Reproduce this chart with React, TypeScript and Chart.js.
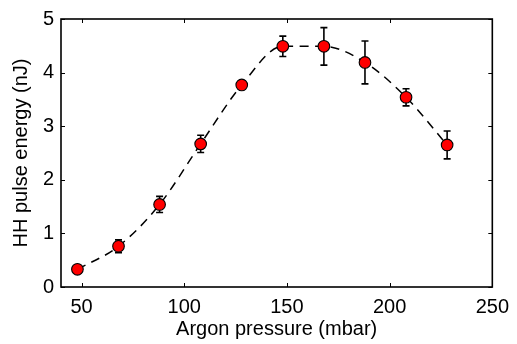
import React, { useEffect, useRef } from "react";
import { Chart, registerables } from "chart.js";

Chart.register(...registerables);

const pressure = [48, 68, 88, 108, 128, 148, 168, 188, 208, 228];
const energy = [0.33, 0.76, 1.54, 2.67, 3.77, 4.49, 4.49, 4.19, 3.54, 2.65];
const energyError = [0.02, 0.12, 0.15, 0.16, 0.05, 0.19, 0.35, 0.4, 0.16, 0.26];
const xTicks = [50, 100, 150, 200, 250];
const yTicks = [0, 1, 2, 3, 4, 5];

const FONT = "'Liberation Sans', Arial, Helvetica, sans-serif";

const errorBarPlugin = {
  id: "errorBars",
  afterDatasetsDraw(chart: any) {
    const { ctx, scales } = chart;
    const xs = scales.x;
    const ys = scales.y;
    ctx.save();
    ctx.strokeStyle = "#000";
    ctx.lineWidth = 1.6;
    ctx.setLineDash([]);
    for (let i = 0; i < pressure.length; i++) {
      const px = xs.getPixelForValue(pressure[i]);
      const yTop = ys.getPixelForValue(energy[i] + energyError[i]);
      const yBot = ys.getPixelForValue(energy[i] - energyError[i]);
      const cap = 3.5;
      ctx.beginPath();
      ctx.moveTo(px, yTop);
      ctx.lineTo(px, yBot);
      ctx.moveTo(px - cap, yTop);
      ctx.lineTo(px + cap, yTop);
      ctx.moveTo(px - cap, yBot);
      ctx.lineTo(px + cap, yBot);
      ctx.stroke();
    }
    const meta = chart.getDatasetMeta(0);
    meta.data.forEach((pt: any) => {
      ctx.beginPath();
      ctx.arc(pt.x, pt.y, 5.8, 0, Math.PI * 2);
      ctx.fillStyle = "#ff0000";
      ctx.fill();
      ctx.lineWidth = 1.1;
      ctx.strokeStyle = "#000";
      ctx.stroke();
    });
    ctx.restore();
  },
};

const framePlugin = {
  id: "frame",
  afterDraw(chart: any) {
    const { ctx, chartArea, scales } = chart;
    const { left, right, top, bottom } = chartArea;
    ctx.save();
    ctx.strokeStyle = "#000";
    ctx.lineWidth = 1.6;
    ctx.setLineDash([]);
    ctx.strokeRect(left, top, right - left, bottom - top);
    ctx.lineWidth = 1;
    const len = 4;
    ctx.beginPath();
    xTicks.forEach((v) => {
      const px = Math.round(scales.x.getPixelForValue(v)) + 0.5;
      ctx.moveTo(px, bottom);
      ctx.lineTo(px, bottom - len);
      ctx.moveTo(px, top);
      ctx.lineTo(px, top + len);
    });
    yTicks.forEach((v) => {
      const py = Math.round(scales.y.getPixelForValue(v)) + 0.5;
      ctx.moveTo(left, py);
      ctx.lineTo(left + len, py);
      ctx.moveTo(right, py);
      ctx.lineTo(right - len, py);
    });
    ctx.stroke();
    ctx.restore();
  },
};

export default function App() {
  const canvasRef = useRef<HTMLCanvasElement | null>(null);

  useEffect(() => {
    document.body.style.margin = "0";
    const canvas = canvasRef.current;
    if (!canvas) return;
    const chart = new Chart(canvas, {
      type: "line",
      data: {
        datasets: [
          {
            data: pressure.map((x, i) => ({ x, y: energy[i] })),
            borderColor: "#000",
            borderWidth: 1.5,
            borderDash: [9, 6.5],
            cubicInterpolationMode: "monotone",
            pointRadius: 0,
            pointHoverRadius: 0,
            fill: false,
          },
        ],
      },
      options: {
        responsive: false,
        animation: false,
        events: [],
        layout: { padding: { top: 18, right: 20, left: 0, bottom: 0 } },
        plugins: {
          legend: { display: false },
          tooltip: { enabled: false },
        },
        scales: {
          x: {
            type: "linear",
            min: 40,
            max: 250,
            afterBuildTicks: (s: any) => {
              s.ticks = xTicks.map((v) => ({ value: v }));
            },
            afterFit: (s: any) => {
              s.height = 57;
            },
            grid: { display: false, drawTicks: false },
            border: { display: false },
            ticks: {
              color: "#000",
              font: { family: FONT, size: 20 },
              padding: 8,
              maxRotation: 0,
            },
            title: {
              display: true,
              text: "Argon pressure (mbar)",
              color: "#000",
              font: { family: FONT, size: 20 },
              padding: { top: 0, bottom: 3 },
            },
          },
          y: {
            type: "linear",
            min: 0,
            max: 5,
            afterBuildTicks: (s: any) => {
              s.ticks = yTicks.map((v) => ({ value: v }));
            },
            afterFit: (s: any) => {
              s.width = 61;
            },
            grid: { display: false, drawTicks: false },
            border: { display: false },
            ticks: {
              color: "#000",
              font: { family: FONT, size: 20 },
              padding: 7,
            },
            title: {
              display: true,
              text: "HH pulse energy (nJ)",
              color: "#000",
              font: { family: FONT, size: 20 },
              padding: { top: 9, bottom: 0 },
            },
          },
        },
      },
      plugins: [errorBarPlugin, framePlugin],
    } as any);
    return () => chart.destroy();
  }, []);

  return (
    <div style={{ width: 517, height: 344, background: "#fff" }}>
      <canvas ref={canvasRef} width={517} height={344} style={{ display: "block", width: 517, height: 344 }} />
    </div>
  );
}
